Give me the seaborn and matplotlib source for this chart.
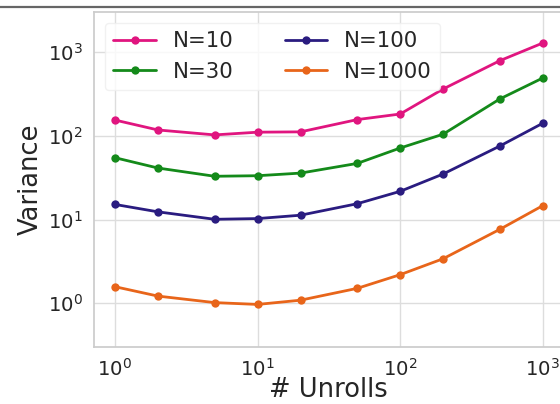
import matplotlib
matplotlib.use("Agg")
import matplotlib.pyplot as plt
import seaborn as sns
import pandas as pd
from matplotlib.lines import Line2D

# unroll counts on the x axis
unrolls = [1, 2, 5, 10, 20, 50, 100, 200, 500, 1000]

# variance per sample size
var_n10 = [155, 118, 103, 111, 112, 157, 183, 364, 794, 1291]
var_n30 = [55, 41.4, 33, 33.5, 36, 47, 71.8, 105, 277, 493]
var_n100 = [15.2, 12.4, 10.1, 10.3, 11.3, 15.5, 21.8, 35.1, 75.8, 142]
var_n1000 = [1.58, 1.22, 1.02, 0.97, 1.09, 1.51, 2.20, 3.41, 7.66, 14.7]

labels = ["N=10", "N=30", "N=100", "N=1000"]
colors = ["#e0157f", "#148a1a", "#2a1c80", "#e8651a"]

rows = []
for label, series in zip(labels, [var_n10, var_n30, var_n100, var_n1000]):
    for u, v in zip(unrolls, series):
        rows.append({"Unrolls": u, "Variance": v, "N": label})
df = pd.DataFrame(rows)

sns.set_theme(style="whitegrid")
plt.rcParams['font.family'] = ['DejaVu Sans']

fig = plt.figure(figsize=(5.6, 4.04), dpi=100)
ax = fig.add_axes([0.1684, 0.1418, 0.8377, 0.8285])

sns.lineplot(data=df, x="Unrolls", y="Variance", hue="N", hue_order=labels,
             palette=colors, marker="o", markersize=6, markeredgewidth=0,
             linewidth=2, ax=ax)

ax.set_xscale("log")
ax.set_yscale("log")
ax.set_xlim(0.716, 1396)
ax.set_ylim(0.303, 3032)
ax.tick_params(axis="both", labelsize=14.2, pad=2)
ax.set_xlabel("# Unrolls", fontsize=18.5, labelpad=-2)
ax.set_ylabel("Variance", fontsize=18.5, labelpad=3)
ax.grid(True, which="major", color="#dddddd", linewidth=1)
ax.grid(False, which="minor")
for s in ax.spines.values():
    s.set_color("#cccccc")

leg = ax.legend(loc="upper left", ncol=2, fontsize=15.3, frameon=True,
                columnspacing=2.4, handletextpad=0.8, borderpad=0.4,
                labelspacing=0.5)
leg.get_frame().set_edgecolor("#eeeeee")

# thin dark rule along the top edge, as in the source
fig.add_artist(Line2D([0, 1], [1 - 7 / 404, 1 - 7 / 404], color="#666666",
                      linewidth=1.6, transform=fig.transFigure))

fig.savefig("out.png", dpi=100)
